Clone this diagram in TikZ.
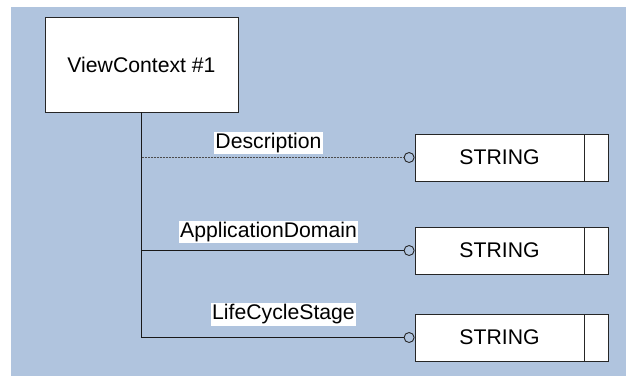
\documentclass[tikz,border=0pt]{standalone}
\usepackage{fontspec}
\setmainfont{Liberation Sans}
\begin{document}
\begin{tikzpicture}[x=1pt,y=1pt,
  every node/.style={font=\fontsize{21.2}{25}\selectfont},
  box/.style={draw=black!85, line width=0.9pt, fill=white, inner sep=0pt},
  lbl/.style={fill=white, inner sep=1.4pt},
  ring/.style={circle, draw=black!85, line width=0.9pt, minimum size=10pt, inner sep=0pt},
  conn/.style={draw=black!90, line width=0.9pt},
  dotconn/.style={draw=black!70, line width=0.9pt, dash pattern=on 2pt off 1pt}]
\useasboundingbox (0,0) rectangle (626,-376);
\fill[fill={rgb,255:red,176;green,196;blue,222}] (11,-7) rectangle (626,-376);
% main box
\node[box, minimum width=193pt, minimum height=95pt] (vc) at (141.5,-64.5) {ViewContext \#1};
% string boxes
\node[box, minimum width=169pt, minimum height=47pt] (s1) at (499.5,-157.5) {STRING};
\node[box, minimum width=24pt, minimum height=47pt, anchor=west] (s1b) at (s1.east) {};
\node[box, minimum width=169pt, minimum height=47pt] (s2) at (499.5,-250.5) {STRING};
\node[box, minimum width=24pt, minimum height=47pt, anchor=west] (s2b) at (s2.east) {};
\node[box, minimum width=169pt, minimum height=47pt] (s3) at (499.5,-337.5) {STRING};
\node[box, minimum width=24pt, minimum height=47pt, anchor=west] (s3b) at (s3.east) {};
% rings
\node[ring, anchor=east] (c1) at (s1.west) {};
\node[ring, anchor=east] (c2) at (s2.west) {};
\node[ring, anchor=east] (c3) at (s3.west) {};
% junctions
\coordinate (j1) at (vc.south |- c1.west);
\coordinate (j2) at (vc.south |- c2.west);
% connectors
\draw[conn] (vc.south) |- (c3.west);
\draw[conn] (j2) -- (c2.west);
\draw[dotconn] (j1) -- (c1.west);
% labels
\node[lbl] (l1) at (268.5,-143) {Description};
\node[lbl] (l2) at (268.5,-232) {ApplicationDomain};
\node[lbl] (l3) at (283.5,-314.5) {LifeCycleStage};
\end{tikzpicture}
\end{document}
